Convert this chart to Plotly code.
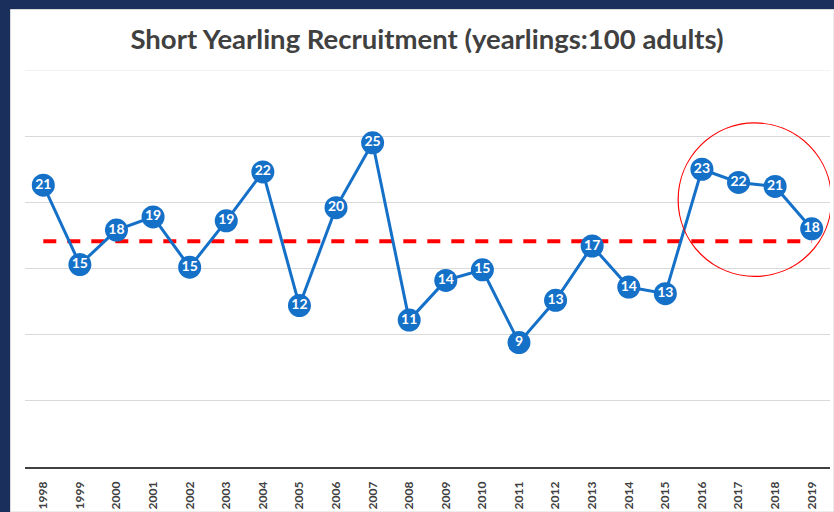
import plotly.graph_objects as go

years = [str(y) for y in range(1998, 2020)]
ratio = [21.3, 15.3, 17.9, 18.9, 15.1, 18.6, 22.3, 12.2, 19.6, 24.5, 11.1,
         14.1, 14.9, 9.4, 12.6, 16.7, 13.6, 13.1, 22.5, 21.5, 21.2, 18.0]
labels = ["21", "15", "18", "19", "15", "19", "22", "12", "20", "25", "11",
          "14", "15", "9", "13", "17", "14", "13", "23", "22", "21", "18"]
mean_value = 17.05

W, H = 834, 512
L, R, T, B = 25, 4, 70, 45
pw = W - L - R
ph = H - T - B

def px_x(x):
    return (x - L) / pw

def px_y(y):
    return (H - B - y) / ph

blue = "#1570C8"
navy = "#1B2F5C"
fig = go.Figure()

fig.add_trace(go.Scatter(
    x=years, y=[mean_value] * len(years), mode="lines",
    line=dict(color="#FF0000", width=4, dash="13px,11px"),
    hoverinfo="skip", showlegend=False,
))

fig.add_trace(go.Scatter(
    x=years, y=ratio, mode="lines+markers+text",
    line=dict(color=blue, width=3),
    marker=dict(size=23, color=blue, line=dict(color=blue, width=0)),
    text=labels, textposition="middle center",
    textfont=dict(family="Lato", size=14, color="white", weight="bold"),
    showlegend=False,
))

shapes = [
    dict(type="rect", xref="paper", yref="paper", layer="below",
         x0=px_x(10.5), x1=px_x(834), y0=px_y(512), y1=px_y(9.5),
         fillcolor="white", line=dict(color="#D9D9D9", width=1)),
    dict(type="line", xref="paper", yref="y", layer="below",
         x0=0, x1=1, y0=30, y1=30, line=dict(color="#E6E6E6", width=1)),
    dict(type="circle", xref="x", yref="y",
         x0=17.35, x1=21.54, y0=14.4, y1=26.0,
         line=dict(color="#FF0000", width=1.2)),
]

fig.update_layout(
    width=W, height=H,
    margin=dict(l=L, r=R, t=T, b=B, autoexpand=False),
    paper_bgcolor=navy,
    plot_bgcolor="white",
    shapes=shapes,
    title=dict(text="Short Yearling Recruitment (yearlings:100 adults)",
               x=427 / W, xanchor="center",
               xref="container", y=1 - 39 / H, yref="container", yanchor="middle",
               font=dict(family="Lato", size=27.5, color="#404040", weight="bold")),
    xaxis=dict(type="category", range=[-0.5, len(years) - 0.5], tickangle=-90,
               automargin=False,
               showgrid=False, showline=True, linecolor="#404040", linewidth=1.5,
               ticks="", ticklabelstandoff=8,
               tickfont=dict(family="Lato", size=12, color="#404040", weight="bold")),
    yaxis=dict(range=[0, 30], dtick=5, showticklabels=False, showgrid=True,
               automargin=False,
               gridcolor="#D9D9D9", gridwidth=1, zeroline=False, showline=False),
)

fig.write_html("out.html", config={"displayModeBar": False},
               post_script="document.body.style.margin='0';"
                           "document.body.style.overflow='hidden';"
                           "document.documentElement.style.overflow='hidden';"
                           "window.scrollTo(0,0);"
                           "document.body.style.background='" + navy + "';")
